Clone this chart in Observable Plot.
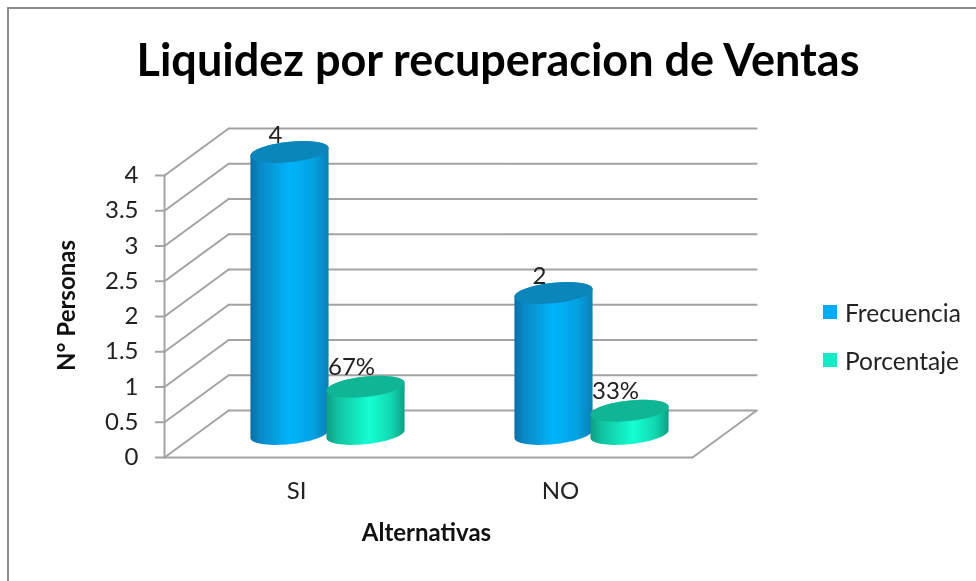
<!DOCTYPE html>
<html><head><meta charset="utf-8">
<script src="https://cdn.jsdelivr.net/npm/d3@7"></script>
<script src="https://cdn.jsdelivr.net/npm/@observablehq/plot@0.6"></script>
<style>
html,body{margin:0;padding:0;background:#fff;overflow:hidden}
#wrap{position:relative;width:976px;height:581px;font-family:Lato,sans-serif;color:#222;filter:blur(0.4px)}
#frame{position:absolute;left:7px;top:7px;right:-4px;bottom:-4px;border:2px solid #8c8c8c}
#title{position:absolute;left:0;top:32px;width:996px;text-align:center;font-size:45px;font-weight:700;color:#000;line-height:54px;white-space:nowrap}
#chart{position:absolute;left:0;top:0}
#legend .row{position:absolute;left:823px;display:flex;align-items:center;height:24px;font-size:24.5px;white-space:nowrap}
#legend i{display:inline-block;width:14px;height:14px;margin-right:8px}
</style></head>
<body><div id="wrap"><div id="frame"></div><div id="chart"></div><div id="title">Liquidez por recuperacion de Ventas</div><div id="legend"></div></div>
<script>
const titleText = "Liquidez por recuperacion de Ventas";
const categories = ["SI", "NO"];
const frecuencia = [4, 2];
const porcentaje = [0.67, 0.33];
const frecuenciaLabels = ["4", "2"];
const porcentajeLabels = ["67%", "33%"];
const yTicks = [0, 0.5, 1, 1.5, 2, 2.5, 3, 3.5, 4];
const seriesNames = ["Frecuencia", "Porcentaje"];
const seriesColors = ["#00adf2", "#14eac5"];

// oblique projection of the 3-D box, in data units
const DX = 0.243, DY = 0.667;
const HALF_GAP = 0.144, RX = 0.148, RY = 0.145, SHEAR = 0.055, NUDGE = -0.004;
const wallLevels = yTicks;

const backLines = wallLevels.map(v => [{x: DX, y: v + DY}, {x: 2 + DX, y: v + DY}]);
const sideLines = wallLevels.map(v => [{x: 0, y: v}, {x: DX, y: v + DY}]);
const frameLines = [
  [{x: 0, y: 0}, {x: 0, y: 4}],
  [{x: 0, y: 0}, {x: 2, y: 0}],
  [{x: 2, y: 0}, {x: 2 + DX, y: DY}]
];
const segs = [...backLines, ...sideLines, ...frameLines].flatMap((s, i) => s.map(p => ({...p, k: i})));

const arc = (cx, cy, t0, t1, n = 36) => d3.range(n + 1).map(i => {
  const t = t0 + (t1 - t0) * i / n;
  return {x: cx + RX * Math.cos(t), y: cy + RY * Math.sin(t) + SHEAR * Math.cos(t)};
});
const barsOf = (values, side) => values.map((v, i) => ({
  i, v, cx: i + 0.5 + side * HALF_GAP + DX / 2 + NUDGE, base: DY / 2, top: DY / 2 + v
}));
const body = bars => bars.flatMap(b => [...arc(b.cx, b.top, 0, Math.PI), ...arc(b.cx, b.base, Math.PI, 2 * Math.PI)].map(p => ({...p, k: b.i})));
const cap = bars => bars.flatMap(b => arc(b.cx, b.top, 0, 2 * Math.PI, 60).map(p => ({...p, k: b.i})));

const fBars = barsOf(frecuencia, -1), pBars = barsOf(porcentaje, 1);

const defs = () => {
  const g = document.createElementNS("http://www.w3.org/2000/svg", "g");
  g.innerHTML = `<defs>
  <linearGradient id="gBlue"><stop offset="0" stop-color="#0a6ea6"/><stop offset=".12" stop-color="#0a88c6"/><stop offset=".5" stop-color="#00b4fa"/><stop offset=".8" stop-color="#04a2e2"/><stop offset="1" stop-color="#0b7fb6"/></linearGradient>
  <linearGradient id="gGreen"><stop offset="0" stop-color="#0f9c82"/><stop offset=".15" stop-color="#10c4a2"/><stop offset=".55" stop-color="#14ffd2"/><stop offset=".82" stop-color="#12d9b2"/><stop offset="1" stop-color="#0f9f86"/></linearGradient>
  </defs>`;
  return g;
};

const labelFont = {fontSize: 24, fill: "#222"};
const plot = Plot.plot({
  width: 976, height: 581,
  marginTop: 175, marginBottom: 124, marginLeft: 164, marginRight: 284,
  style: {background: "transparent", fontFamily: "Lato, sans-serif", overflow: "visible"},
  x: {domain: [0, 2], axis: null},
  y: {domain: [0, 4], axis: null},
  marks: [
    defs,
    Plot.line(segs, {x: "x", y: "y", z: "k", stroke: "#a3a3a3", strokeWidth: 2}),
    Plot.axisY({ticks: yTicks, tickSize: 9, tickPadding: 17, stroke: "#a3a3a3", strokeWidth: 2, color: "#222", ...labelFont, label: null, tickFormat: d => String(d)}),
    Plot.axisX({ticks: [0.5, 1.5], tickSize: 0, tickPadding: 24, ...labelFont, label: null, tickFormat: d => categories[Math.floor(d)]}),
    Plot.line(body(fBars), {x: "x", y: "y", z: "k", fill: "url(#gBlue)", stroke: "none"}),
    Plot.line(cap(fBars), {x: "x", y: "y", z: "k", fill: "#0a86bb", stroke: "none"}),
    Plot.line(body(pBars), {x: "x", y: "y", z: "k", fill: "url(#gGreen)", stroke: "none"}),
    Plot.line(cap(pBars), {x: "x", y: "y", z: "k", fill: "#10b596", stroke: "none"}),
    Plot.text(fBars, {x: "cx", y: "top", text: d => frecuenciaLabels[d.i], dx: -14, dy: -17, ...labelFont}),
    Plot.text(pBars, {x: "cx", y: "top", text: d => porcentajeLabels[d.i], dx: -14, dy: -19, ...labelFont}),
    Plot.text(["Alternativas"], {frameAnchor: "bottom", dx: -2, dy: 76, lineAnchor: "middle", fontSize: 24, fontWeight: 700, fill: "#111"}),
    Plot.text(["N° Personas"], {frameAnchor: "left", textAnchor: "middle", dx: -97, dy: -11, rotate: -90, fontSize: 24, fontWeight: 700, fill: "#111"})
  ]
});
document.getElementById("chart").append(plot);
document.getElementById("title").textContent = titleText;
const legend = document.getElementById("legend");
seriesNames.forEach((n, i) => {
  const r = document.createElement("div");
  r.className = "row";
  r.style.top = (300 + i * 48) + "px";
  r.innerHTML = `<i style="background:${seriesColors[i]}"></i>${n}`;
  legend.append(r);
});
</script></body></html>
